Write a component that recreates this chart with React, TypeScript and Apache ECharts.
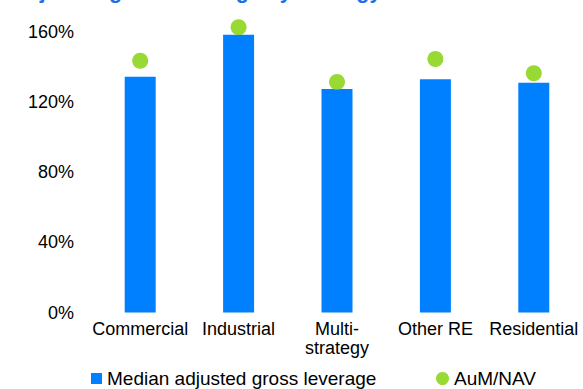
import React, { useEffect, useRef } from "react";
import * as echarts from "echarts";

const titleText = "Adjusted gross leverage by strategy";
const categories = ["Commercial", "Industrial", "Multi-\nstrategy", "Other RE", "Residential"];
const leverage = [134.5, 158.5, 127.5, 133, 131];
const aumNav = [143.6, 162.7, 131.5, 144.6, 136.5];
const yTicks = [0, 40, 80, 120, 160];
const barName = "Median adjusted gross leverage";
const dotName = "AuM/NAV";

const FONT = "'Liberation Sans', Arial, sans-serif";

export default function App() {
  const ref = useRef<HTMLDivElement>(null);
  useEffect(() => {
    if (!ref.current) return;
    const chart = echarts.init(ref.current, null, { renderer: "svg" });
    chart.setOption({
      animation: false,
      textStyle: { fontFamily: FONT },
      graphic: [
        {
          type: "text",
          left: 11,
          top: -20,
          style: {
            text: titleText,
            font: `bold 21.5px ${FONT}`,
            fill: "#1f6fe6",
          },
        },
      ],
      grid: { left: 91, top: 32, width: 493, height: 280.5, containLabel: false },
      xAxis: {
        type: "category",
        data: categories,
        axisLine: { show: false },
        axisTick: { show: false },
        axisLabel: {
          color: "#000",
          fontSize: 18,
          lineHeight: 19,
          margin: 7,
          interval: 0,
          fontFamily: FONT,
        },
      },
      yAxis: {
        type: "value",
        min: yTicks[0],
        max: yTicks[yTicks.length - 1],
        interval: 40,
        splitLine: { show: false },
        axisLine: { show: false },
        axisTick: { show: false },
        axisLabel: {
          color: "#000",
          fontSize: 18,
          margin: 17,
          formatter: "{value}%",
          fontFamily: FONT,
        },
      },
      legend: [
        {
          left: 91,
          top: 369,
          padding: 0,
          itemWidth: 11,
          itemHeight: 11,
          itemGap: 5,
          data: [{ name: barName, icon: "rect" }],
          textStyle: { color: "#000", fontSize: 19, fontFamily: FONT },
        },
        {
          left: 436,
          top: 369,
          padding: 0,
          itemWidth: 13,
          itemHeight: 13,
          data: [{ name: dotName, icon: "circle" }],
          textStyle: { color: "#000", fontSize: 19, fontFamily: FONT },
        },
      ],
      series: [
        {
          name: barName,
          type: "bar",
          data: leverage,
          barWidth: 31,
          itemStyle: { color: "#0080ff" },
        },
        {
          name: dotName,
          type: "scatter",
          data: aumNav,
          symbol: "circle",
          symbolSize: 16,
          clip: false,
          itemStyle: { color: "#80d000" },
          z: 5,
        },
      ],
    });
    return () => chart.dispose();
  }, []);
  return <div ref={ref} style={{ width: 583, height: 389, position: "absolute", left: 0, top: 0 }} />;
}
